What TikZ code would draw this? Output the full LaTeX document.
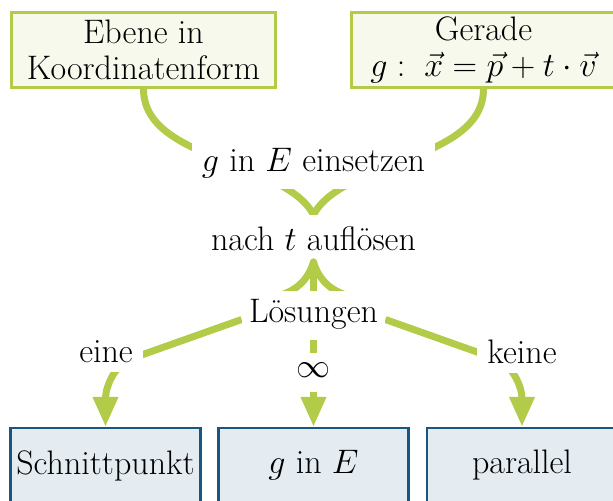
\documentclass[tikz,border=0pt]{standalone}
\usepackage{fix-cm}
\usetikzlibrary{arrows.meta}
\definecolor{lgreen}{RGB}{178,203,72}
\definecolor{lgfill}{RGB}{247,249,236}
\definecolor{dblue}{RGB}{24,88,128}
\definecolor{bfill}{RGB}{228,236,241}
\pgfdeclarelayer{background}
\pgfsetlayers{background,main}
\begin{document}
\begin{tikzpicture}[x=0.5pt,y=0.5pt,
  font=\fontsize{17pt}{18pt}\selectfont,
  topbox/.style={draw=lgreen, fill=lgfill, line width=1.5pt, minimum width=132pt, minimum height=37.5pt, align=center, inner sep=0pt},
  botbox/.style={draw=dblue, fill=bfill, line width=1.2pt, minimum width=95pt, minimum height=37.5pt, inner sep=0pt},
  lbl/.style={fill=white, inner xsep=5pt, inner ysep=5pt},
  gline/.style={draw=lgreen, line width=3.5pt},
  greentip/.style={-{Triangle[length=15pt,width=12pt]}},
  uptip/.style={-{Computer Modern Rightarrow[length=20pt,width=36pt]}}
]
\useasboundingbox (0,0) rectangle (613,-501);
\clip (0,0) rectangle (613,-501);
% boxes
\node[topbox] (E) at (143.5,-50) {Ebene in\\Koordinatenform};
\node[topbox] (G) at (483.5,-50) {Gerade\\$g:\;\vec{x}=\vec{p}+t\cdot\vec{v}$};
\node[botbox] (S) at (105.5,-465.5) {Schnittpunkt};
\node[botbox] (I) at (313.5,-465.5) {$g$ in $E$};
\node[botbox] (P) at (522,-465.5) {parallel};
% labels
\node[lbl, anchor=base] (ein) at (313.5,-172) {$g$ in $E$ einsetzen};
\node[fill=white, inner xsep=4pt, inner ysep=0pt, text height=17.5pt, text depth=4pt, anchor=base] (auf) at (313.5,-250) {nach $t$ aufl\"osen};
\node[fill=white, inner xsep=3.5pt, inner ysep=0pt, text height=15.5pt, text depth=9pt, anchor=base] (L) at (313.5,-322) {L\"osungen};
\node[lbl, anchor=base] (eine) at (106,-362) {eine};
\node[lbl, anchor=base] (keine) at (522,-363) {keine};
\node[fill=white, inner sep=2pt] (inf) at (313.5,-370) {$\infty$};
% connectors
\begin{pgfonlayer}{background}
\draw[gline] (E.south) .. controls +(0,-72) and +(-30,55) .. (auf.north);
\draw[gline] (G.south) .. controls +(0,-72) and +(30,55) .. (auf.north);
\draw[gline, uptip] (L.north) -- (auf.south);
\draw[gline, greentip] ([yshift=-2pt]L.west) -- ++(-110,-39) .. controls +(-17,-6) and +(0,40) .. (S.north);
\draw[gline, greentip] ([yshift=-2pt]L.east) -- ++(110,-39) .. controls +(17,-6) and +(0,40) .. (P.north);
\draw[gline, greentip, dash pattern=on 6.5pt off 6.5pt] (L.south) -- (I.north);
\end{pgfonlayer}
\end{tikzpicture}
\end{document}
